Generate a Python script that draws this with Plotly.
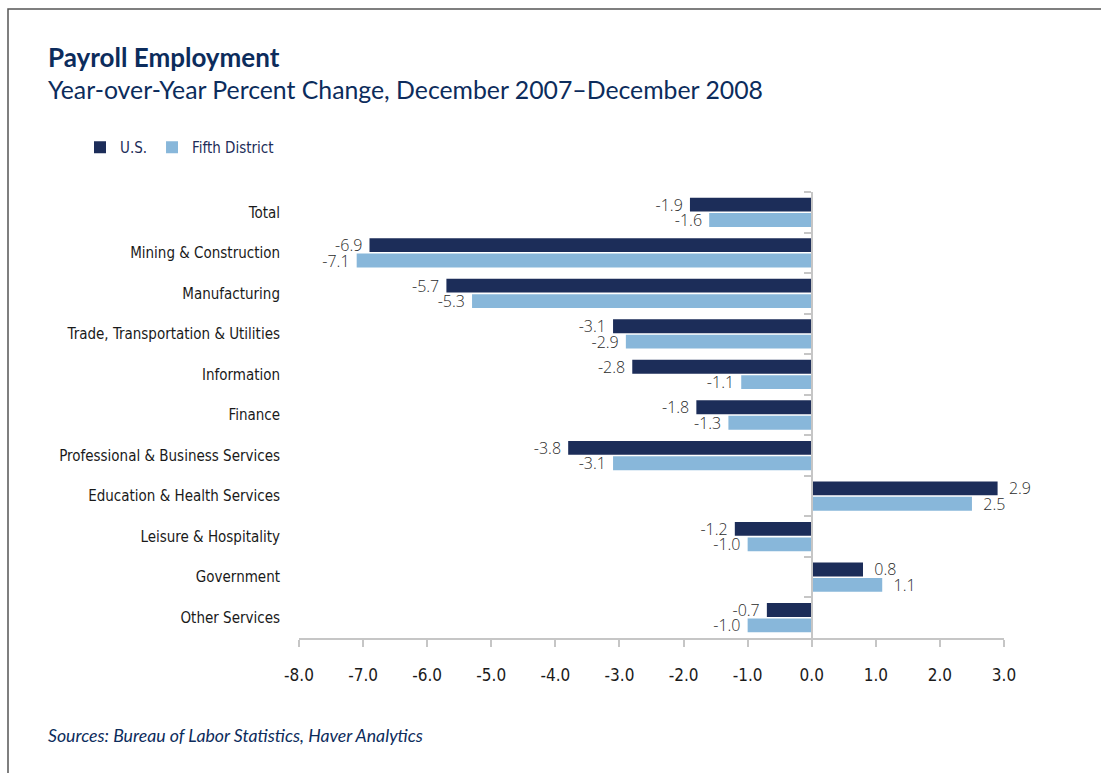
import plotly.graph_objects as go

categories = [
    "Total",
    "Mining & Construction",
    "Manufacturing",
    "Trade, Transportation & Utilities",
    "Information",
    "Finance",
    "Professional & Business Services",
    "Education & Health Services",
    "Leisure & Hospitality",
    "Government",
    "Other Services",
]
us_values = [-1.9, -6.9, -5.7, -3.1, -2.8, -1.8, -3.8, 2.9, -1.2, 0.8, -0.7]
fifth_values = [-1.6, -7.1, -5.3, -2.9, -1.1, -1.3, -3.1, 2.5, -1.0, 1.1, -1.0]
x_ticks = [-8, -7, -6, -5, -4, -3, -2, -1, 0, 1, 2, 3]

NAVY = "#1c2d59"
LIGHT = "#88b7da"
TITLE_C = "#0c2c5c"
AXIS_C = "#c6c6c6"
COND = "Liberation Sans Narrow, DejaVu Sans Condensed, sans-serif"

W, H = 1101, 773
L, R, T, B = 299, 97, 192, 135
PW, PH = W - L - R, H - T - B


def px(xp):
    return (xp - L) / PW


def py(yp):
    return (H - B - yp) / PH


NB = "\u00a0"


def label_templates(values):
    # a little extra breathing room between the bar end and its value label
    return [("%{x:.1f}" + NB) if v < 0 else (NB * 2 + "%{x:.1f}") for v in values]


label_font = dict(family="Open Sans, sans-serif", size=16, color="#2b2b2b", weight=300)

fig = go.Figure()
fig.add_trace(go.Bar(
    name="U.S.", y=categories, x=us_values, orientation="h",
    marker=dict(color=NAVY, line=dict(color=NAVY, width=0)),
    texttemplate=label_templates(us_values), textposition="outside",
    textfont=label_font, outsidetextfont=label_font, constraintext="none",
    cliponaxis=False, hoverinfo="x+y",
))
fig.add_trace(go.Bar(
    name="Fifth District", y=categories, x=fifth_values, orientation="h",
    marker=dict(color=LIGHT, line=dict(color=LIGHT, width=0)),
    texttemplate=label_templates(fifth_values), textposition="outside",
    textfont=label_font, outsidetextfont=label_font, constraintext="none",
    cliponaxis=False, hoverinfo="x+y",
))
# invisible helper trace so the zero-line category axis gets its boundary ticks
fig.add_trace(go.Scatter(
    x=[0] * len(categories), y=categories, yaxis="y2", mode="markers",
    marker=dict(opacity=0), showlegend=False, hoverinfo="skip",
))

zero_pos = (0 - x_ticks[0]) / (x_ticks[-1] - x_ticks[0])

fig.update_layout(
    width=W, height=H,
    margin=dict(l=L, r=R, t=T, b=B),
    paper_bgcolor="white", plot_bgcolor="white",
    barmode="group", bargap=0.24, bargroupgap=0.1,
    xaxis=dict(
        range=[x_ticks[0], x_ticks[-1]], tickvals=x_ticks,
        ticktext=[f"{v:.1f}" for v in x_ticks],
        showgrid=False, zeroline=False,
        showline=True, linecolor=AXIS_C, linewidth=1.5,
        ticks="outside", ticklen=7, tickcolor=AXIS_C, tickwidth=1.5,
        tickfont=dict(family=COND, size=17, color="#1a1a1a"),
        ticklabelstandoff=14,
    ),
    yaxis=dict(
        type="category", categoryorder="array", categoryarray=categories,
        range=[len(categories) - 0.5, -0.5],
        showgrid=False, zeroline=False, showline=False, ticks="",
        tickfont=dict(family=COND, size=15, color="#1a1a1a"),
        ticklabelstandoff=18,
    ),
    yaxis2=dict(
        type="category", categoryorder="array", categoryarray=categories,
        range=[len(categories) - 0.5, -0.5],
        overlaying="y", anchor="free", position=zero_pos, side="left",
        showgrid=False, zeroline=False, showticklabels=False,
        showline=True, linecolor=AXIS_C, linewidth=1.5,
        ticks="outside", ticklen=7, tickcolor=AXIS_C, tickwidth=1.5,
        tickson="boundaries",
    ),
    showlegend=True,
    legend=dict(
        orientation="h", x=px(80), y=py(131), xanchor="left", yanchor="top",
        font=dict(family=COND, size=15, color=NAVY),
        traceorder="normal", itemwidth=30, bgcolor="rgba(0,0,0,0)",
    ),
    annotations=[
        dict(text="<b>Payroll Employment</b>", xref="paper", yref="paper",
             x=px(46), y=py(57), xanchor="left", yanchor="middle", showarrow=False,
             font=dict(family="Lato, Open Sans, sans-serif", size=26, color=TITLE_C)),
        dict(text="Year-over-Year Percent Change, December 2007\u2013December 2008",
             xref="paper", yref="paper",
             x=px(46), y=py(89), xanchor="left", yanchor="middle", showarrow=False,
             font=dict(family="Lato, Open Sans, sans-serif", size=24.8, color=TITLE_C)),
        dict(text="<i>Sources: Bureau of Labor Statistics, Haver Analytics</i>",
             xref="paper", yref="paper",
             x=px(46), y=py(735), xanchor="left", yanchor="middle", showarrow=False,
             font=dict(family="Lato, Open Sans, sans-serif", size=17.7, color=TITLE_C)),
    ],
    shapes=[
        dict(type="rect", xref="paper", yref="paper",
             x0=px(8), y0=py(800), x1=px(1130), y1=py(9),
             line=dict(color="#555555", width=1.5), fillcolor="rgba(0,0,0,0)",
             layer="below"),
    ],
)

fig.write_html("out.html")
